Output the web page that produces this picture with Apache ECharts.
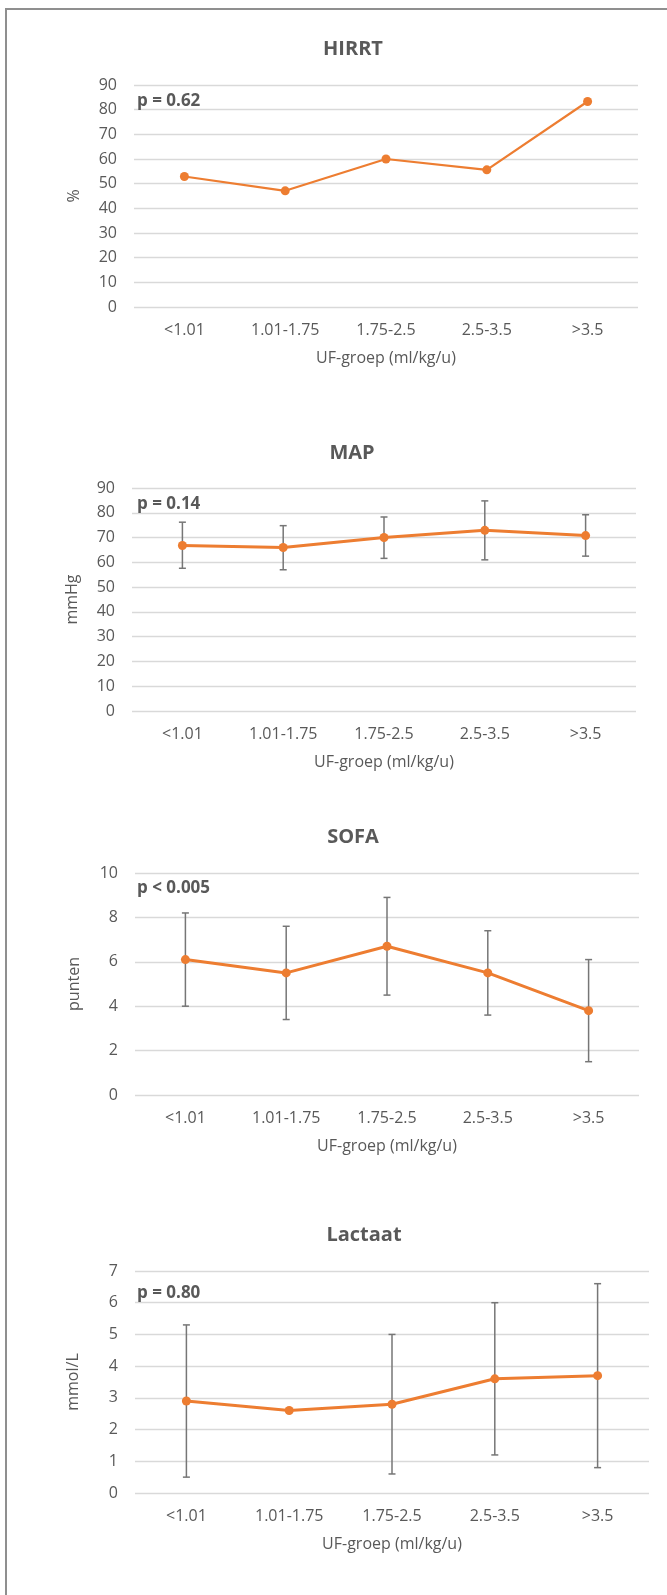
<!DOCTYPE html>
<html>
<head>
<meta charset="utf-8">
<script src="https://cdn.jsdelivr.net/npm/echarts@6/dist/echarts.min.js"></script>
<style>
html,body{margin:0;padding:0;background:#fff;}
#c{width:667px;height:1595px;}
</style>
</head>
<body>
<div id="c"></div>
<script>
// ---- data ----
var categories = ['<1.01', '1.01-1.75', '1.75-2.5', '2.5-3.5', '>3.5'];
var xAxisName = 'UF-groep (ml/kg/u)';

var titles = ['HIRRT', 'MAP', 'SOFA', 'Lactaat'];
var yNames = ['%', 'mmHg', 'punten', 'mmol/L'];
var pTexts = ['p = 0.62', 'p = 0.14', 'p < 0.005', 'p = 0.80'];

var hirrt = [52.9, 47.1, 60.0, 55.6, 83.3];

var mapMean = [66.8, 66.0, 70.0, 72.9, 70.8];
var mapLow  = [57.6, 57.0, 61.6, 61.0, 62.5];
var mapHigh = [76.2, 74.8, 78.3, 84.8, 79.2];

var sofaMean = [6.1, 5.5, 6.7, 5.5, 3.8];
var sofaLow  = [4.0, 3.4, 4.5, 3.6, 1.5];
var sofaHigh = [8.2, 7.6, 8.9, 7.4, 6.1];

var lacMean = [2.9, 2.6, 2.8, 3.6, 3.7];
var lacLow  = [0.5, null, 0.6, 1.2, 0.8];
var lacHigh = [5.3, null, 5.0, 6.0, 6.6];

var yMax = [90, 90, 10, 7];
var yStep = [10, 10, 2, 1];

// ---- layout ----
var FONT = '"Open Sans", Lato, sans-serif';
var TXT = '#595959';
var ORANGE = '#ED7D31';
var grids = [
  {left: 134, right: 29, top: 85, height: 222},
  {left: 132, right: 31, top: 488, height: 223},
  {left: 135, right: 28, top: 873, height: 222},
  {left: 135, right: 18, top: 1271, height: 222}
];
var titlePos = [[353, 49], [352, 453], [353, 837], [364, 1235]];
var pPos = [[137, 101], [137, 504], [137, 888], [137, 1293]];
var yNameGap = [52, 52, 53, 54];

var means = [hirrt, mapMean, sofaMean, lacMean];
var lows = [null, mapLow, sofaLow, lacLow];
var highs = [null, mapHigh, sofaHigh, lacHigh];

var xAxes = [], yAxes = [], series = [], graphics = [];

graphics.push({
  type: 'rect', shape: {x: 6, y: 9, width: 700, height: 1620},
  style: {fill: 'none', stroke: '#8f8f8f', lineWidth: 2}, silent: true
});

for (var i = 0; i < 4; i++) {
  xAxes.push({
    type: 'category', gridIndex: i, data: categories,
    axisLine: {show: false}, axisTick: {show: false},
    axisLabel: {color: TXT, fontFamily: FONT, fontSize: 16, margin: 15},
    name: xAxisName, nameLocation: 'middle', nameGap: 43,
    nameTextStyle: {color: TXT, fontFamily: FONT, fontSize: 16}
  });
  yAxes.push({
    type: 'value', gridIndex: i, min: 0, max: yMax[i], interval: yStep[i],
    axisLine: {show: false}, axisTick: {show: false},
    axisLabel: {color: TXT, fontFamily: FONT, fontSize: 16, margin: 17},
    splitLine: {lineStyle: {color: '#d9d9d9', width: 1.3}},
    name: yNames[i], nameLocation: 'middle', nameGap: yNameGap[i], nameRotate: 90,
    nameTextStyle: {color: TXT, fontFamily: FONT, fontSize: 16}
  });
  if (lows[i]) {
    var ebData = [];
    for (var k = 0; k < categories.length; k++) {
      if (lows[i][k] != null && highs[i][k] != null) ebData.push([k, lows[i][k], highs[i][k]]);
    }
    series.push({
      type: 'custom', xAxisIndex: i, yAxisIndex: i, z: 2,
      data: ebData, encode: {x: 0, y: [1, 2]},
      renderItem: function (params, api) {
        var x = api.value(0);
        var lo = api.coord([x, api.value(1)]);
        var hi = api.coord([x, api.value(2)]);
        var w = 3.5;
        var st = {stroke: '#767676', lineWidth: 1.5};
        return {
          type: 'group',
          children: [
            {type: 'line', shape: {x1: lo[0], y1: lo[1], x2: hi[0], y2: hi[1]}, style: st},
            {type: 'line', shape: {x1: lo[0] - w, y1: lo[1], x2: lo[0] + w, y2: lo[1]}, style: st},
            {type: 'line', shape: {x1: hi[0] - w, y1: hi[1], x2: hi[0] + w, y2: hi[1]}, style: st}
          ]
        };
      }
    });
  }
  series.push({
    type: 'line', xAxisIndex: i, yAxisIndex: i, z: 3,
    data: means[i], symbol: 'circle', symbolSize: 9, showSymbol: true,
    lineStyle: {color: ORANGE, width: i === 0 ? 2.2 : 3},
    itemStyle: {color: ORANGE}
  });
  graphics.push({
    type: 'text', x: titlePos[i][0], y: titlePos[i][1], silent: true,
    style: {text: titles[i], fill: TXT, font: 'bold 20px ' + FONT, textAlign: 'center', textVerticalAlign: 'middle'}
  });
  graphics.push({
    type: 'text', x: pPos[i][0], y: pPos[i][1], silent: true, z: 10,
    style: {text: pTexts[i], fill: TXT, font: 'bold 17px ' + FONT, textAlign: 'left', textVerticalAlign: 'middle'}
  });
}

var chart = echarts.init(document.getElementById('c'), null, {renderer: 'canvas'});
chart.setOption({
  animation: false,
  backgroundColor: '#ffffff',
  grid: grids,
  xAxis: xAxes,
  yAxis: yAxes,
  series: series,
  graphic: graphics
});
</script>
</body>
</html>
